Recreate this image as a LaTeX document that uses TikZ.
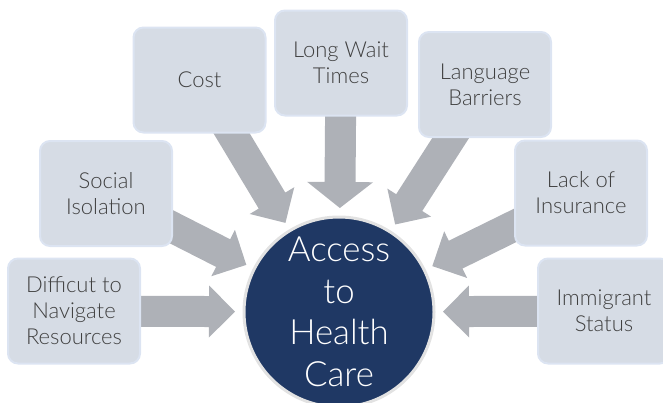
\documentclass[tikz,border=0pt]{standalone}
\usepackage{fontspec}
\setmainfont{Lato Light}
\usetikzlibrary{calc,backgrounds}
\definecolor{boxfill}{RGB}{214,220,229}
\definecolor{boxline}{RGB}{220,228,242}
\definecolor{arrowgray}{RGB}{174,177,183}
\definecolor{hubfill}{RGB}{31,56,100}
\definecolor{hubline}{RGB}{226,226,226}
\definecolor{txt}{RGB}{64,64,64}
\newcommand\convarrow[2]{%
  \coordinate (T) at ($(hub.center)!104pt!(#1.center)$);
  \coordinate (B) at ($(T)!26pt!(#1.center)$);
  \fill[arrowgray] ($(#1.center)!15.5pt!90:(T)$) -- ($(B)!15.5pt!90:(T)$)
    -- ($(B)!#2!90:(T)$) -- (T) -- ($(B)!#2!-90:(T)$)
    -- ($(B)!15.5pt!-90:(T)$) -- ($(#1.center)!15.5pt!-90:(T)$) -- cycle;
}
\begin{document}
\begin{tikzpicture}[x=1pt,y=-1pt,
  box/.style={draw=boxline,line width=2pt,fill=boxfill,rounded corners=10pt,
    minimum width=132pt,minimum height=105pt,align=center,text=txt,
    font=\fontsize{22}{26}\selectfont,inner sep=0pt},
  hubstyle/.style={circle,draw=hubline,line width=3pt,fill=hubfill,
    minimum size=190pt,align=center,text=white,inner sep=0pt,
    font=\fontsize{34.8}{41.5}\selectfont}]
\useasboundingbox (0,0) rectangle (663,402);
\clip (0,0) rectangle (663,402);
\node[hubstyle] (hub) at (339,312) {Access\\to\\Health\\Care};
\node[box] (diff) at (74,311) {Difficut to\\Navigate\\Resources};
\node[box] (social) at (106,193.5) {Social\\Isolation};
\node[box] (cost) at (199.5,80) {Cost};
\node[box] (wait) at (341,63) {Long Wait\\Times};
\node[box] (lang) at (485,84.5) {Language\\Barriers};
\node[box] (lack) at (581,193) {Lack of\\Insurance};
\node[box] (imm) at (604,311) {Immigrant\\Status};
\begin{pgfonlayer}{background}
\convarrow{diff}{26pt}
\convarrow{social}{26pt}
\convarrow{cost}{26pt}
\convarrow{wait}{33pt}
\convarrow{lang}{26pt}
\convarrow{lack}{26pt}
\convarrow{imm}{26pt}
\end{pgfonlayer}
\end{tikzpicture}
\end{document}
